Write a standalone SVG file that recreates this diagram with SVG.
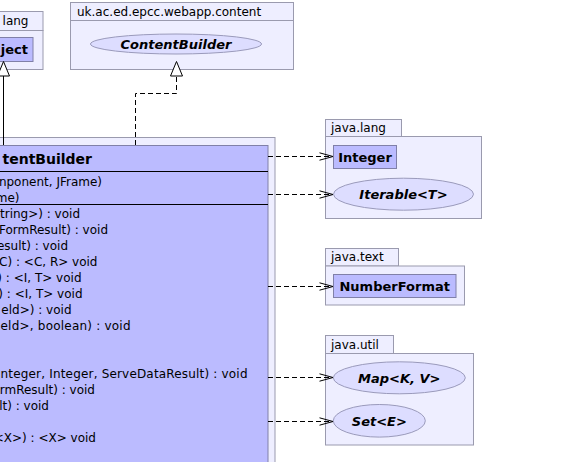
<svg xmlns="http://www.w3.org/2000/svg" width="578" height="462" viewBox="0 0 578 462">
<style>
.pkg{fill:#eeeeff;stroke:#9a9aae;stroke-width:1}
.cls{fill:#bbbbff;stroke:#8080a8;stroke-width:1}
.ifc{fill:#ddddff;stroke:#9a9abb;stroke-width:1}
.sep{stroke:#000;stroke-width:1}
.t{font-family:"DejaVu Sans","Liberation Sans",sans-serif;font-size:12px;fill:#000}
.m{font-family:"DejaVu Sans","Liberation Sans",sans-serif;font-size:12px;fill:#000}
.b{font-family:"DejaVu Sans","Liberation Sans",sans-serif;font-size:13px;font-weight:bold;fill:#000}
.bi{font-family:"DejaVu Sans","Liberation Sans",sans-serif;font-size:13px;font-weight:bold;font-style:italic;fill:#000}
.dep{fill:none;stroke:#000;stroke-width:1;stroke-dasharray:5,3}
.head{fill:none;stroke:#000;stroke-width:1}
.tri{fill:#fff;stroke:#000;stroke-width:1}
</style>
<rect width="578" height="462" fill="#fff"/>
<g id="pkg-java-lang-left">
<rect class="pkg" x="-10" y="11.5" width="53" height="19"/>
<rect class="pkg" x="-10" y="30.5" width="53" height="39"/>
<text class="t" x="28.5" y="24.5" text-anchor="end">lang</text>
</g>
<g id="node-object">
<rect class="cls" x="-10" y="37.5" width="43" height="24"/>
<text class="b" x="28" y="54" text-anchor="end">ject</text>
</g>
<g id="pkg-content">
<rect class="pkg" x="70.5" y="2.5" width="223" height="18"/>
<rect class="pkg" x="70.5" y="20.5" width="223" height="49"/>
<text class="t" x="77" y="15.5">uk.ac.ed.epcc.webapp.content</text>
</g>
<g id="node-contentbuilder-interface">
<ellipse class="ifc" cx="176" cy="44" rx="85.5" ry="10"/>
<text class="bi" x="176" y="49" text-anchor="middle">ContentBuilder</text>
</g>
<g id="pkg-container">
<rect class="pkg" x="-10" y="137.5" width="285" height="340"/>
</g>
<g id="node-class">
<rect class="cls" x="-10" y="145.5" width="278" height="330"/>
<line class="sep" x1="-10" y1="171.5" x2="268" y2="171.5"/>
<line class="sep" x1="-10" y1="204.5" x2="268" y2="204.5"/>
<text class="b" style="font-size:14px" x="92" y="164" text-anchor="end">tentBuilder</text>
<text class="m" x="102" y="185.5" text-anchor="end">nponent, JFrame)</text>
<text class="m" x="19.5" y="201.5" text-anchor="end">me)</text>
<text class="m" x="80" y="217.5" text-anchor="end">tring&gt;) : void</text>
<text class="m" x="108" y="233.5" text-anchor="end">FormResult) : void</text>
<text class="m" x="68" y="249.5" text-anchor="end">esult) : void</text>
<text class="m" x="97.5" y="265.5" text-anchor="end">C) : &lt;C, R&gt; void</text>
<text class="m" x="81.5" y="281.5" text-anchor="end">) : &lt;I, T&gt; void</text>
<text class="m" x="82.5" y="297.5" text-anchor="end">) : &lt;I, T&gt; void</text>
<text class="m" x="71.5" y="313.5" text-anchor="end">eld&gt;) : void</text>
<text class="m" x="0.5" y="329.5" textLength="130" lengthAdjust="spacing">eld&gt;, boolean) : void</text>
<text class="m" x="0.5" y="377.5" textLength="247" lengthAdjust="spacing">nteger, Integer, ServeDataResult) : void</text>
<text class="m" x="95" y="393.5" text-anchor="end">rmResult) : void</text>
<text class="m" x="49" y="409.5" text-anchor="end">lt) : void</text>
<text class="m" x="96" y="441.5" text-anchor="end">&lt;X&gt;) : &lt;X&gt; void</text>
</g>
<g id="pkg-java-lang">
<rect class="pkg" x="325.5" y="119.5" width="76" height="17"/>
<rect class="pkg" x="325.5" y="136.5" width="156" height="82"/>
<text class="t" x="331" y="132">java.lang</text>
</g>
<g id="node-integer">
<rect class="cls" x="333.5" y="145.5" width="63" height="23"/>
<text class="b" x="365" y="161.5" text-anchor="middle">Integer</text>
</g>
<g id="node-iterable">
<ellipse class="ifc" cx="403.5" cy="194.2" rx="70" ry="16"/>
<text class="bi" x="403.5" y="199" text-anchor="middle">Iterable&lt;T&gt;</text>
</g>
<g id="pkg-java-text">
<rect class="pkg" x="325.5" y="248.5" width="73" height="17.5"/>
<rect class="pkg" x="325.5" y="266" width="139" height="39"/>
<text class="t" x="331" y="261">java.text</text>
</g>
<g id="node-numberformat">
<rect class="cls" x="333.5" y="274.5" width="122.5" height="23"/>
<text class="b" x="394.7" y="290.5" text-anchor="middle">NumberFormat</text>
</g>
<g id="pkg-java-util">
<rect class="pkg" x="325.5" y="335.5" width="68" height="18"/>
<rect class="pkg" x="325.5" y="353.5" width="148" height="91.5"/>
<text class="t" x="331" y="348.5">java.util</text>
</g>
<g id="node-map">
<ellipse class="ifc" cx="399.3" cy="377.8" rx="66" ry="16"/>
<text class="bi" x="399.3" y="382.5" text-anchor="middle">Map&lt;K, V&gt;</text>
</g>
<g id="node-set">
<ellipse class="ifc" cx="379.3" cy="420.8" rx="46" ry="16.3"/>
<text class="bi" x="379.3" y="425.5" text-anchor="middle">Set&lt;E&gt;</text>
</g>
<g id="connectors">
<line x1="3.5" y1="76" x2="3.5" y2="145" stroke="#000" stroke-width="1"/>
<polygon class="tri" points="3.5,61.5 -2.5,76 9.5,76"/>
<polyline class="dep" points="135.5,145 135.5,93.5 176.5,93.5 176.5,76"/>
<polygon class="tri" points="176.5,61.5 170.5,76 182.5,76"/>
<line class="dep" x1="268" y1="156.5" x2="332" y2="156.5"/>
<polyline class="head" points="319.5,152.8 333,156.5 319.5,160.2"/>
<line class="dep" x1="268" y1="194.5" x2="332" y2="194.5"/>
<polyline class="head" points="319.5,190.8 333,194.5 319.5,198.2"/>
<line class="dep" x1="268" y1="286.5" x2="332" y2="286.5"/>
<polyline class="head" points="319.5,282.8 333,286.5 319.5,290.2"/>
<line class="dep" x1="268" y1="377.5" x2="332" y2="377.5"/>
<polyline class="head" points="319.5,373.8 333,377.5 319.5,381.2"/>
<line class="dep" x1="268" y1="421.5" x2="332" y2="421.5"/>
<polyline class="head" points="319.5,417.8 333,421.5 319.5,425.2"/>
</g>
</svg>
